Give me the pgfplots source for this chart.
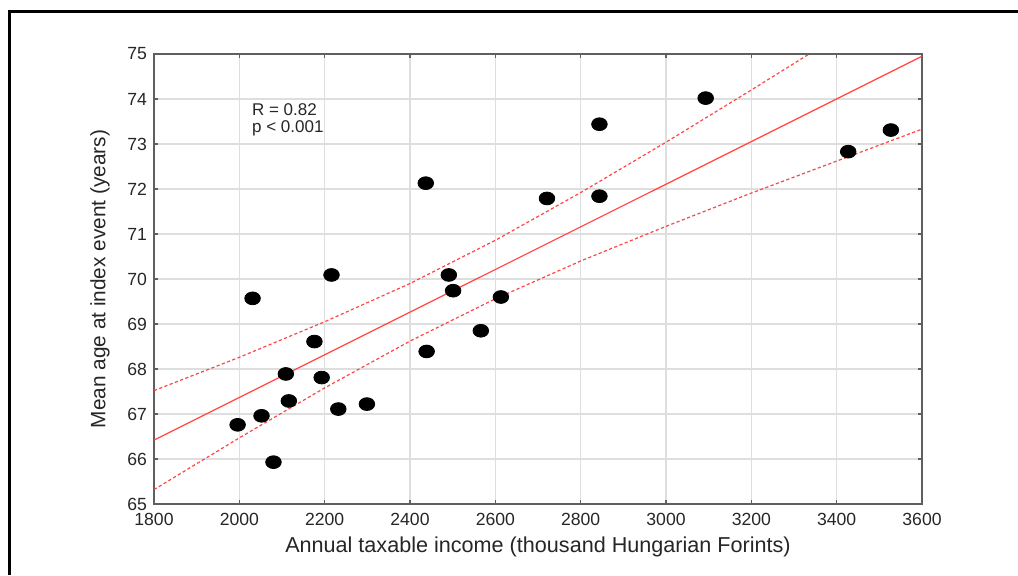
\documentclass[border=0pt]{standalone}
\usepackage{pgfplots}
\pgfplotsset{compat=1.18}
\usepackage{fontspec}
\setmainfont{Liberation Sans}
\definecolor{fitred}{RGB}{255,70,70}
\definecolor{gridgray}{RGB}{222,222,222}
\definecolor{axisgray}{RGB}{95,95,95}
\begin{document}
\begin{tikzpicture}
\useasboundingbox (0,0) rectangle (509pt,287.5pt);
\draw[line width=1.5pt] (4.5pt,0) -- (4.5pt,282pt) -- (509pt,282pt);
\begin{axis}[
  at={(77pt,35.5pt)}, anchor=south west,
  scale only axis, width=384pt, height=225pt,
  xmin=1800, xmax=3600, ymin=65, ymax=75,
  xtick={1800,2000,...,3600}, ytick={65,66,...,75},
  grid=major, major grid style={gridgray, line width=0.6pt},
  axis line style={axisgray, line width=0.9pt},
  tick style={axisgray, line width=0.6pt}, major tick length=2pt,
  /pgf/number format/assume math mode=true,
  /pgf/number format/1000 sep={},
  tick label style={font=\fontsize{8.8}{10}\selectfont, text=black!85},
  xticklabel style={yshift=-1pt},
  xlabel={Annual taxable income (thousand Hungarian Forints)},
  ylabel={Mean age at index event (years)},
  xlabel style={font=\fontsize{10.8}{12}\selectfont, at={(axis description cs:0.5,-0.0956)}, anchor=center, text=black!85},
  ylabel style={font=\fontsize{10.4}{12}\selectfont, at={(axis description cs:-0.0703,0.5)}, anchor=center, text=black!85},
  clip=true,
]
% upper 95% confidence band
\addplot[fitred, line width=0.6pt, dash pattern=on 1.6pt off 1.2pt] coordinates {
(1800,67.52) (2000,68.26) (2200,69.05) (2400,69.90) (2600,70.86) (2800,71.92) (3000,73.04) (3200,74.20) (3400,75.38) (3600,76.57)};
% lower 95% confidence band
\addplot[fitred, line width=0.6pt, dash pattern=on 1.6pt off 1.2pt] coordinates {
(1800,65.32) (2000,66.47) (2200,67.58) (2400,68.62) (2600,69.56) (2800,70.40) (3000,71.17) (3200,71.91) (3400,72.62) (3600,73.33)};
% regression line
\addplot[fitred, line width=0.6pt] coordinates {(1800,66.42) (3600,74.95)};
% data points
\addplot[only marks, mark=*, mark size=3.2pt, mark options={xscale=1.22, fill=black, draw=black}] coordinates {
(2031,69.57) (2216,70.09) (2491,70.09) (2501,69.74) (2613,69.60) (2566,68.85)
(2439,68.39) (2176,68.61) (2109,67.89) (2193,67.81) (2116,67.29) (2052,66.96)
(1996,66.76) (2080,65.93) (2232,67.11) (2299,67.22) (3093,74.02) (2844,73.44)
(3527,73.31) (3427,72.83) (2437,72.13) (2721,71.79) (2844,71.84)};
\node[anchor=north west, inner sep=0pt, align=left, font=\fontsize{8.5}{8.6}\selectfont, text=black!85] at (axis cs:2029,73.9) {R = 0.82\\p < 0.001};
\end{axis}
\end{tikzpicture}
\end{document}
